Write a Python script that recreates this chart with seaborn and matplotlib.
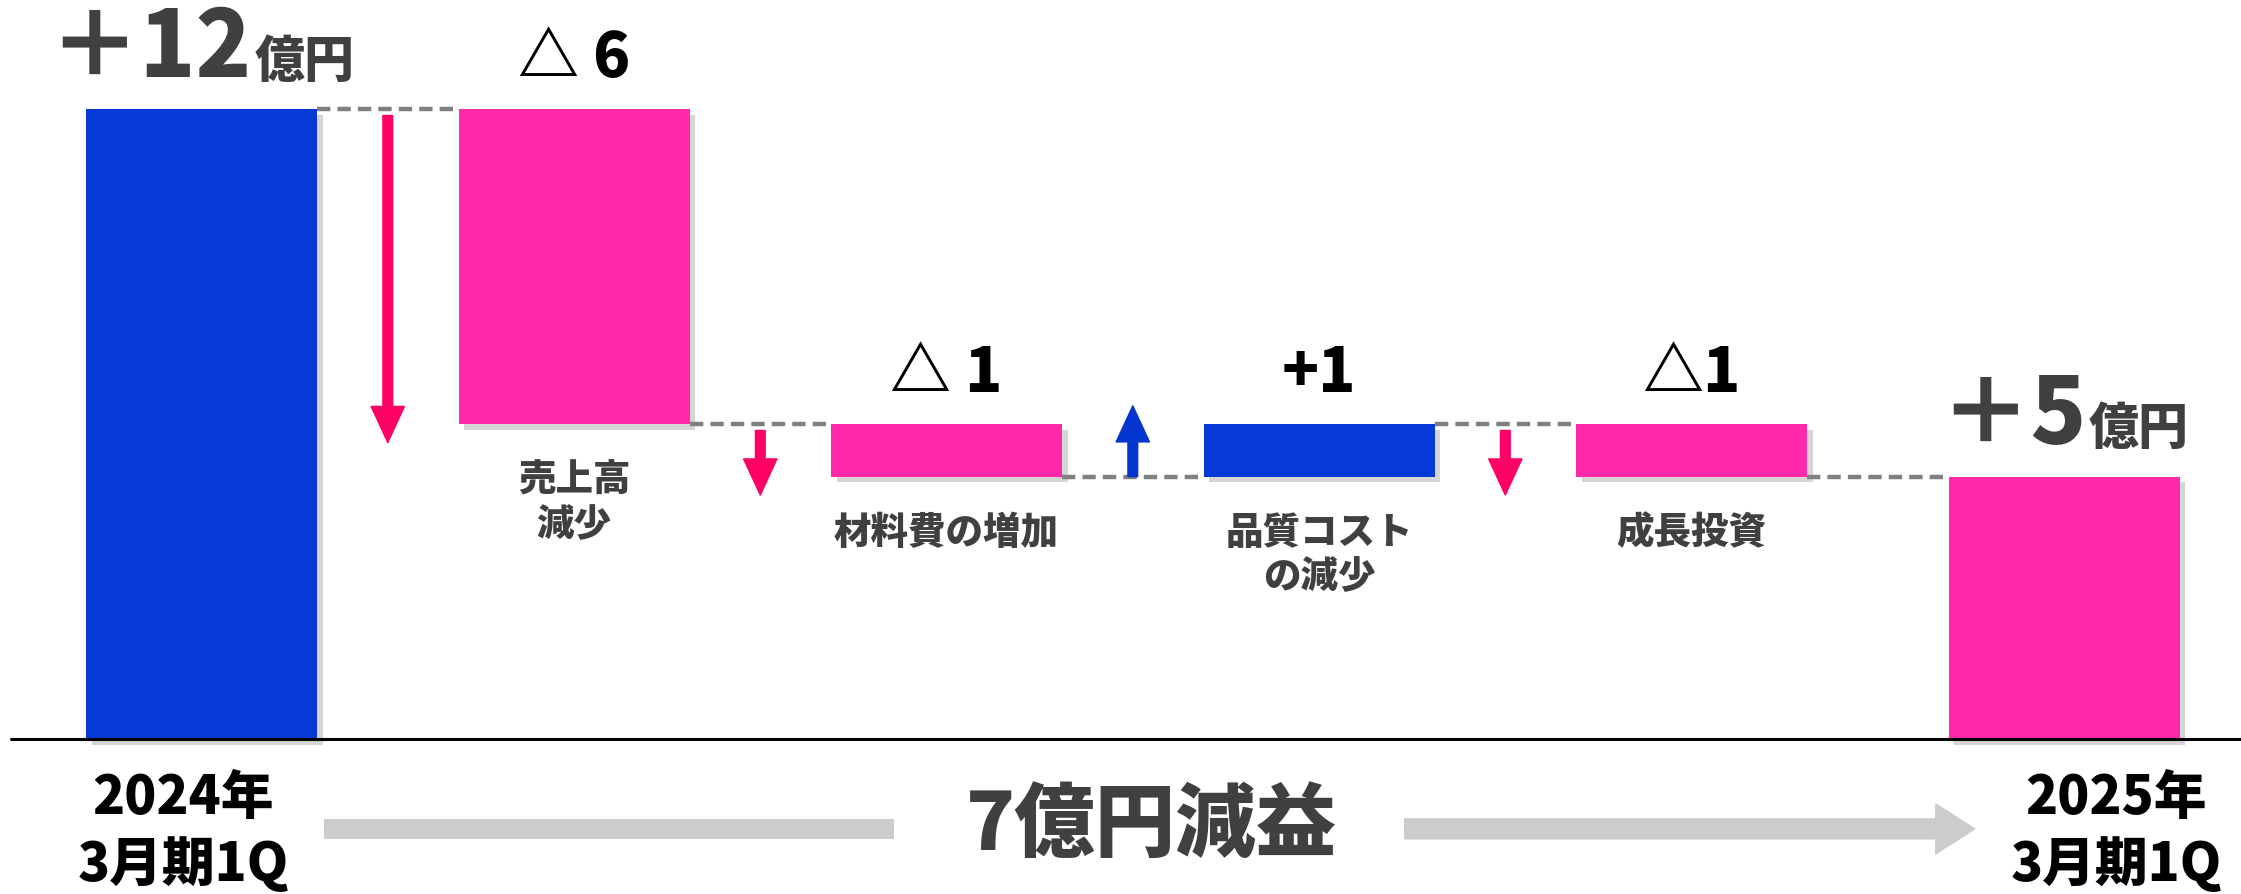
import matplotlib
matplotlib.use("Agg")
import numpy as np
import pandas as pd
import matplotlib.pyplot as plt
import seaborn as sns
from matplotlib import patheffects as pe
from matplotlib.patches import FancyArrowPatch
from matplotlib.offsetbox import TextArea, HPacker, AnnotationBbox

# ---- data ----
categories = ["2024年3月期1Q", "売上高減少", "材料費の増加", "品質コストの減少", "成長投資", "2025年3月期1Q"]
deltas = [12, -6, -1, 1, -1, 5]
is_total = [True, False, False, False, False, True]
value_main = ["＋12", "△ 6", "△ 1", "+1", "△1", "＋5"]
value_unit = ["億円", "", "", "", "", "億円"]
bar_labels = ["", "売上高\n減少", "材料費の増加", "品質コスト\nの減少", "成長投資", ""]
period_labels = ["2024年\n3月期1Q", "2025年\n3月期1Q"]
summary_text = "7億円減益"

BLUE = "#063ad6"
PINK = "#ff29a9"
ARROW_PINK = "#ff0066"
ARROW_BLUE = "#0535cf"
DARK = "#404040"
FW = 'heavy'

# waterfall levels
bottoms, heights, levels = [], [], []
level = 0
for d, tot in zip(deltas, is_total):
    if tot:
        bottoms.append(0)
        heights.append(d)
        level = d
    else:
        new = level + d
        bottoms.append(min(level, new))
        heights.append(abs(d))
        level = new
    levels.append(level)
colors = [PINK if (d < 0 or (tot and i > 0)) else BLUE
          for i, (d, tot) in enumerate(zip(deltas, is_total))]

sns.set_style("white")
plt.rcParams['font.family'] = ['Noto Sans CJK JP', 'DejaVu Sans']
plt.rcParams['font.weight'] = FW

fig = plt.figure(figsize=(22.41, 8.94), dpi=100)
ax = fig.add_axes([0, 0, 1, 1])

df = pd.DataFrame({"cat": categories, "h": heights})
W = 0.62
sns.barplot(data=df, x="cat", y="h", hue="cat", palette=colors, width=W,
            saturation=1, legend=False, ax=ax, zorder=3)

shadow = [pe.SimplePatchShadow(offset=(4, -4), shadow_rgbFace='#888888', alpha=0.35), pe.Normal()]
patches = sorted(ax.patches, key=lambda p: p.get_x())
for p, b, h in zip(patches, bottoms, heights):
    p.set_y(b)
    p.set_height(h)
    p.set_linewidth(0)
    p.set_path_effects(shadow)

ax.set_xlim(-0.541, 5.475)
ax.set_ylim(-2.95, 14.08)
ax.axis('off')

# baseline
ax.axhline(0, xmin=0.005, xmax=1, color='black', lw=2.2, zorder=4)

# dashed connectors
for i in range(len(categories) - 1):
    lv = levels[i]
    ax.plot([i + W / 2, i + 1 - W / 2], [lv, lv], color='#808080', lw=3.2,
            ls=(0, (3.0, 1.6)), zorder=2)

# change arrows between bars
for i in range(1, len(categories) - 1):
    prev = levels[i - 1]
    new = levels[i]
    sgn = np.sign(new - prev)
    col = ARROW_BLUE if sgn > 0 else ARROW_PINK
    start = prev + 0.12 * sgn if sgn < 0 else prev
    end = new + 0.35 * sgn
    arr = FancyArrowPatch((i - 0.5, start), (i - 0.5, end),
                          arrowstyle="simple,head_length=26,head_width=24,tail_width=7",
                          mutation_scale=1, color=col, shrinkA=0, shrinkB=0, zorder=3)
    ax.add_patch(arr)

# value labels above bars
for i, (m, u) in enumerate(zip(value_main, value_unit)):
    top = bottoms[i] + heights[i]
    if u:
        ta = TextArea(m, textprops=dict(fontsize=66, color=DARK, fontweight=FW))
        tb = TextArea(u, textprops=dict(fontsize=36, color=DARK, fontweight=FW))
        box = HPacker(children=[ta, tb], align="baseline", pad=0, sep=2)
        off = 1.15
    else:
        box = TextArea(m, textprops=dict(fontsize=44, color='black', fontweight=FW))
        off = 0.95
    ab = AnnotationBbox(box, (i, top + off), frameon=False, box_alignment=(0.5, 0.5), pad=0)
    ax.add_artist(ab)

# category labels below change bars
for i, lab in enumerate(bar_labels):
    if lab:
        ax.text(i, bottoms[i] - 0.72, lab, ha='center', va='top', fontsize=27,
                color=DARK, fontweight=FW, linespacing=1.2)

# period labels
ax.text(-0.05, -1.77, period_labels[0], ha='center', va='center', fontsize=38,
        color='black', fontweight=FW, linespacing=1.25)
ax.text(5.14, -1.77, period_labels[1], ha='center', va='center', fontsize=38,
        color='black', fontweight=FW, linespacing=1.25)

# summary with gray arrow
ax.text(2.55, -1.66, summary_text, ha='center', va='center', fontsize=58,
        color=DARK, fontweight=FW)
ax.plot([0.33, 1.86], [-1.71, -1.71], color='#cccccc', lw=14.4, solid_capstyle='butt')
ax.add_patch(FancyArrowPatch((3.23, -1.71), (4.76, -1.71),
                             arrowstyle="simple,head_length=28,head_width=36,tail_width=14.4",
                             mutation_scale=1, color='#cccccc', shrinkA=0, shrinkB=0))

fig.savefig("out.png", dpi=100)
